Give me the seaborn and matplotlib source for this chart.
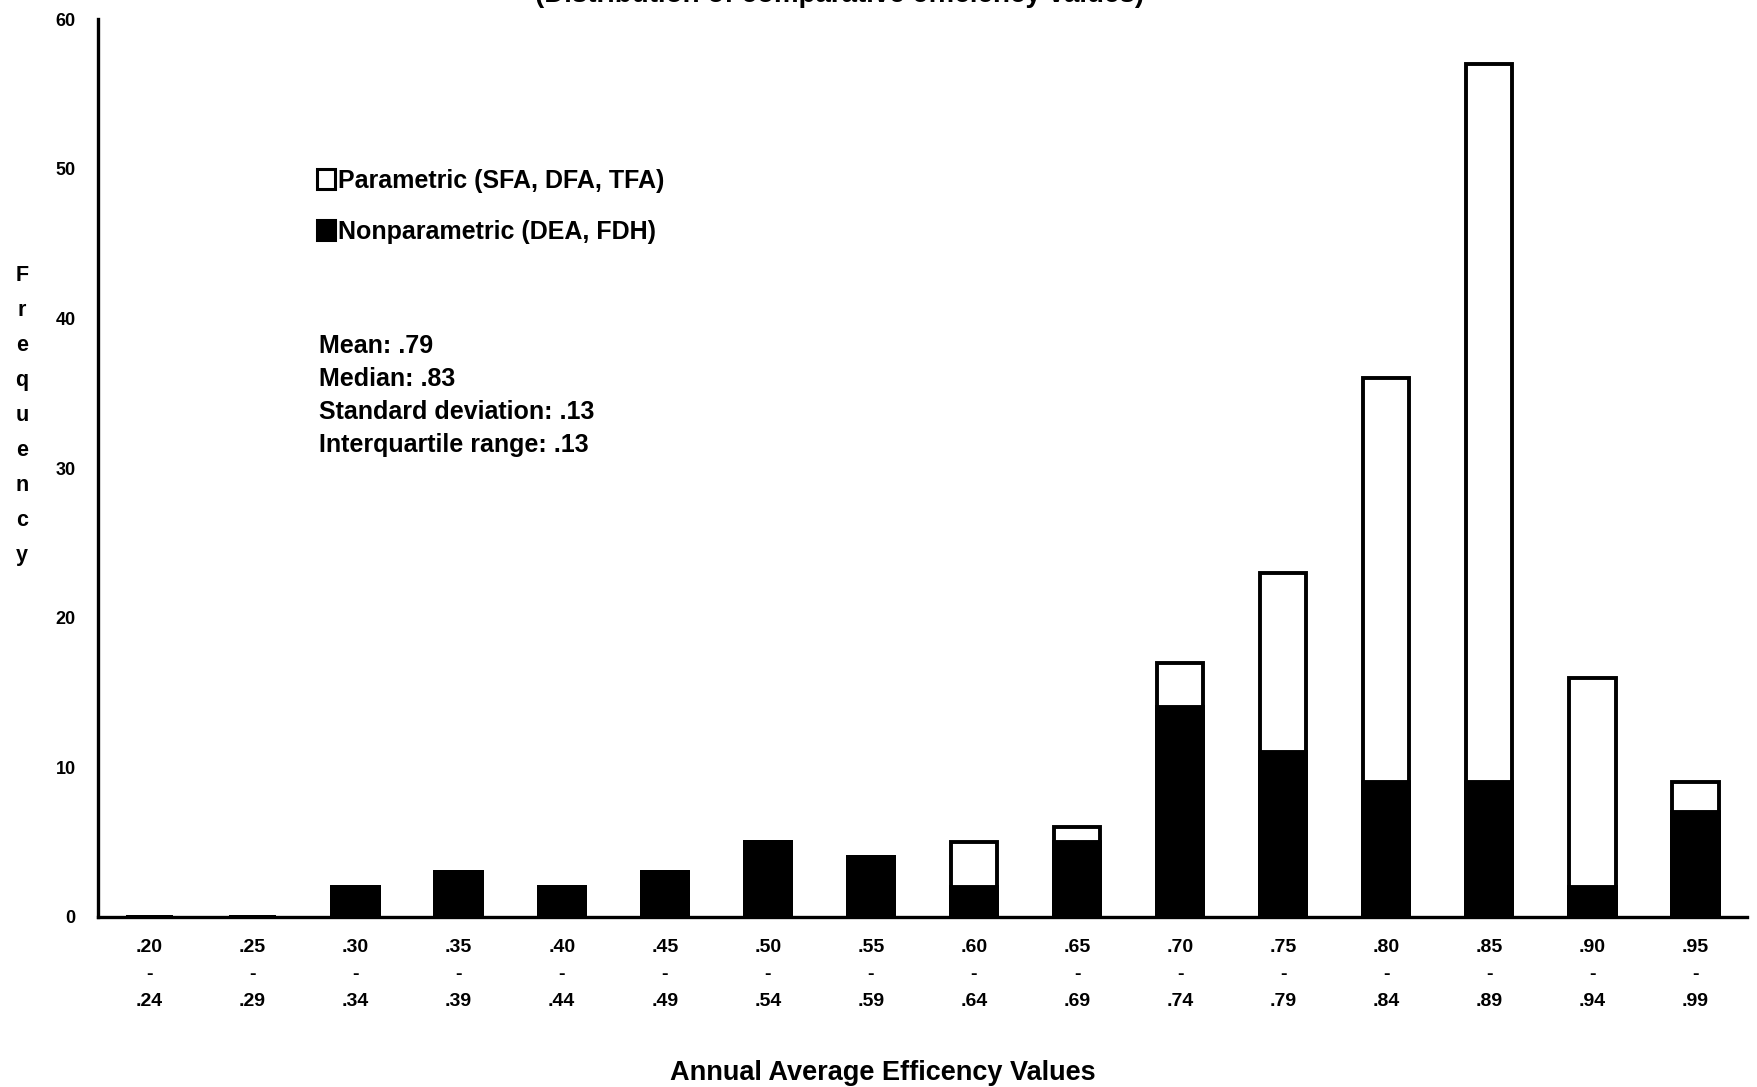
import matplotlib
matplotlib.use("Agg")
import matplotlib.pyplot as plt
import seaborn as sns
import pandas as pd
from matplotlib.patches import Patch

# ---- data ----
bins = [".20", ".25", ".30", ".35", ".40", ".45", ".50", ".55",
        ".60", ".65", ".70", ".75", ".80", ".85", ".90", ".95"]
bin_ends = [".24", ".29", ".34", ".39", ".44", ".49", ".54", ".59",
            ".64", ".69", ".74", ".79", ".84", ".89", ".94", ".99"]
nonparametric = [0, 0, 2, 3, 2, 3, 5, 4, 2, 5, 14, 11, 9, 9, 2, 7]
parametric = [0, 0, 0, 0, 0, 0, 0, 0, 3, 1, 3, 12, 27, 48, 14, 2]
stats_lines = ["Mean: .79", "Median: .83", "Standard deviation: .13",
               "Interquartile range: .13"]
legend_labels = ["Parametric (SFA, DFA, TFA)", "Nonparametric (DEA, FDH)"]
title_text = "(Distribution of comparative efficiency values)"
xlabel_text = "Annual Average Efficency Values"
ylabel_text = "Frequency"

df = pd.DataFrame({
    "bin": bins,
    "nonpar": nonparametric,
    "total": [a + b for a, b in zip(nonparametric, parametric)],
})

sns.set_theme(style="white")
plt.rcParams["font.family"] = ["Liberation Sans", "DejaVu Sans"]
plt.rcParams["font.weight"] = "bold"
plt.rcParams["text.color"] = "black"
plt.rcParams["xtick.color"] = "black"
plt.rcParams["ytick.color"] = "black"

fig = plt.figure(figsize=(17.58, 10.87), dpi=100)
ax = fig.add_axes([0.0557, 0.1564, 0.938, 0.826])

sns.barplot(data=df, x="bin", y="total", order=bins, color="white",
            edgecolor="black", linewidth=2.8, width=0.45, ax=ax)
sns.barplot(data=df, x="bin", y="nonpar", order=bins, color="black",
            edgecolor="black", linewidth=2.8, width=0.45, ax=ax)

ax.set_xlim(-0.5, len(bins) - 0.5)
ax.set_ylim(0, 60)
ax.set_yticks(range(0, 61, 10))
ax.set_yticklabels([str(v) for v in range(0, 61, 10)], fontsize=13,
                   fontweight="bold")
ax.set_xticks(range(len(bins)))
ax.set_xticklabels([f"{a}\n-\n{b}" for a, b in zip(bins, bin_ends)],
                   fontsize=14, fontweight="bold", linespacing=1.75)
ax.set_xticks([i - 0.5 for i in range(len(bins) + 1)], minor=True)
ax.tick_params(axis="x", which="major", length=0, pad=16)
ax.tick_params(axis="x", which="minor", direction="inout", length=12,
               width=1.5, color="black")
ax.tick_params(axis="y", which="major", direction="inout", length=12,
               width=1.5, color="black", pad=10)
ax.set_xlabel("")
ax.set_ylabel("")

for s in ["top", "right"]:
    ax.spines[s].set_visible(False)
for s in ["left", "bottom"]:
    ax.spines[s].set_color("black")
    ax.spines[s].set_linewidth(2.4)
ax.grid(False)

# legend
handles = [Patch(facecolor="white", edgecolor="black", linewidth=2.2),
           Patch(facecolor="black", edgecolor="black", linewidth=2.2)]
ax.legend(handles, legend_labels, loc="upper left",
          bbox_to_anchor=(0.133, 0.833), frameon=False,
          prop={"size": 18, "weight": "bold"}, handlelength=0.7,
          handleheight=0.85, handletextpad=0.15, labelspacing=1.08,
          borderpad=0, borderaxespad=0)

# stats text
fig.text(0.1815, 1 - 334 / 1087, "\n".join(stats_lines), fontsize=18,
         fontweight="bold", va="top", ha="left", linespacing=1.47)

# vertical stacked y label
for i, ch in enumerate(ylabel_text):
    fig.text(22 / 1758, 1 - (276 + i * 34.9) / 1087, ch, fontsize=15.5,
             fontweight="bold", ha="center", va="center")

# x label
fig.text(883 / 1758, 1 - 1073 / 1087, xlabel_text, fontsize=19.5,
         fontweight="bold", ha="center", va="center")

# title (cut off at top of page, as in the source scan)
fig.text(840 / 1758, 1.0 - 8 / 1087, title_text, fontsize=20,
         fontweight="bold", ha="center", va="bottom")

fig.savefig("out.png", dpi=100)
